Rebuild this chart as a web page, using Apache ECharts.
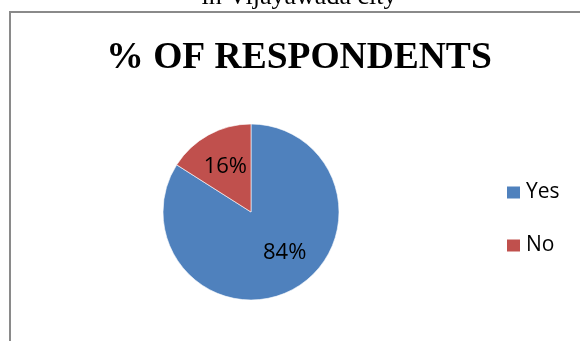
<!DOCTYPE html>
<html>
<head>
<meta charset="utf-8">
<script src="https://cdn.jsdelivr.net/npm/echarts@6/dist/echarts.min.js"></script>
<style>
  html, body { margin: 0; padding: 0; background: #fff; }
  #chart { width: 580px; height: 341px; }
</style>
</head>
<body>
<div id="chart"></div>
<script>
// Survey answers and their share of respondents
var categories = ['Yes', 'No'];
var percentValues = [84, 16];
var sliceColors = ['#4F81BD', '#C0504D'];
var chartTitle = '% OF RESPONDENTS';
var captionTail = 'in Vijayawada city';

var labelOffsets = [[11, 0], [-3, -4]];

var chart = echarts.init(document.getElementById('chart'), null, { renderer: 'canvas' });

var pieData = categories.map(function (name, i) {
  return {
    name: name,
    value: percentValues[i],
    itemStyle: { color: sliceColors[i] },
    label: { offset: labelOffsets[i] }
  };
});

chart.setOption({
  backgroundColor: '#ffffff',
  animation: false,
  title: {
    text: chartTitle,
    left: 294,
    top: 34,
    textAlign: 'center',
    textStyle: {
      fontFamily: 'Liberation Serif',
      fontWeight: 'bold',
      fontSize: 37.5,
      color: '#000'
    }
  },
  legend: {
    orient: 'vertical',
    left: 505,
    top: 182,
    padding: 0,
    itemWidth: 15,
    itemHeight: 14,
    itemGap: 32,
    icon: 'rect',
    selectedMode: false,
    data: categories,
    textStyle: {
      fontFamily: 'Open Sans',
      fontSize: 21,
      color: '#000',
      padding: [0, 0, 0, 0]
    }
  },
  graphic: [
    {
      type: 'rect',
      shape: { x: 10, y: 12, width: 620, height: 400 },
      style: { fill: 'none', stroke: '#8a8a8a', lineWidth: 2 },
      silent: true
    },
    {
      type: 'text',
      x: 299,
      y: 10,
      style: {
        text: captionTail,
        fontFamily: 'Liberation Serif',
        fontSize: 26,
        fill: '#000',
        align: 'center',
        verticalAlign: 'bottom'
      },
      silent: true
    }
  ],
  series: [
    {
      type: 'pie',
      center: [251, 212],
      radius: 88,
      startAngle: 90,
      clockwise: true,
      data: pieData,
      itemStyle: { borderColor: '#ffffff', borderWidth: 0.6 },
      label: {
        show: true,
        position: 'inside',
        formatter: '{c}%',
        fontFamily: 'Open Sans',
        fontSize: 22,
        color: '#000'
      },
      labelLine: { show: false },
      emphasis: { disabled: true }
    }
  ]
});
</script>
</body>
</html>
